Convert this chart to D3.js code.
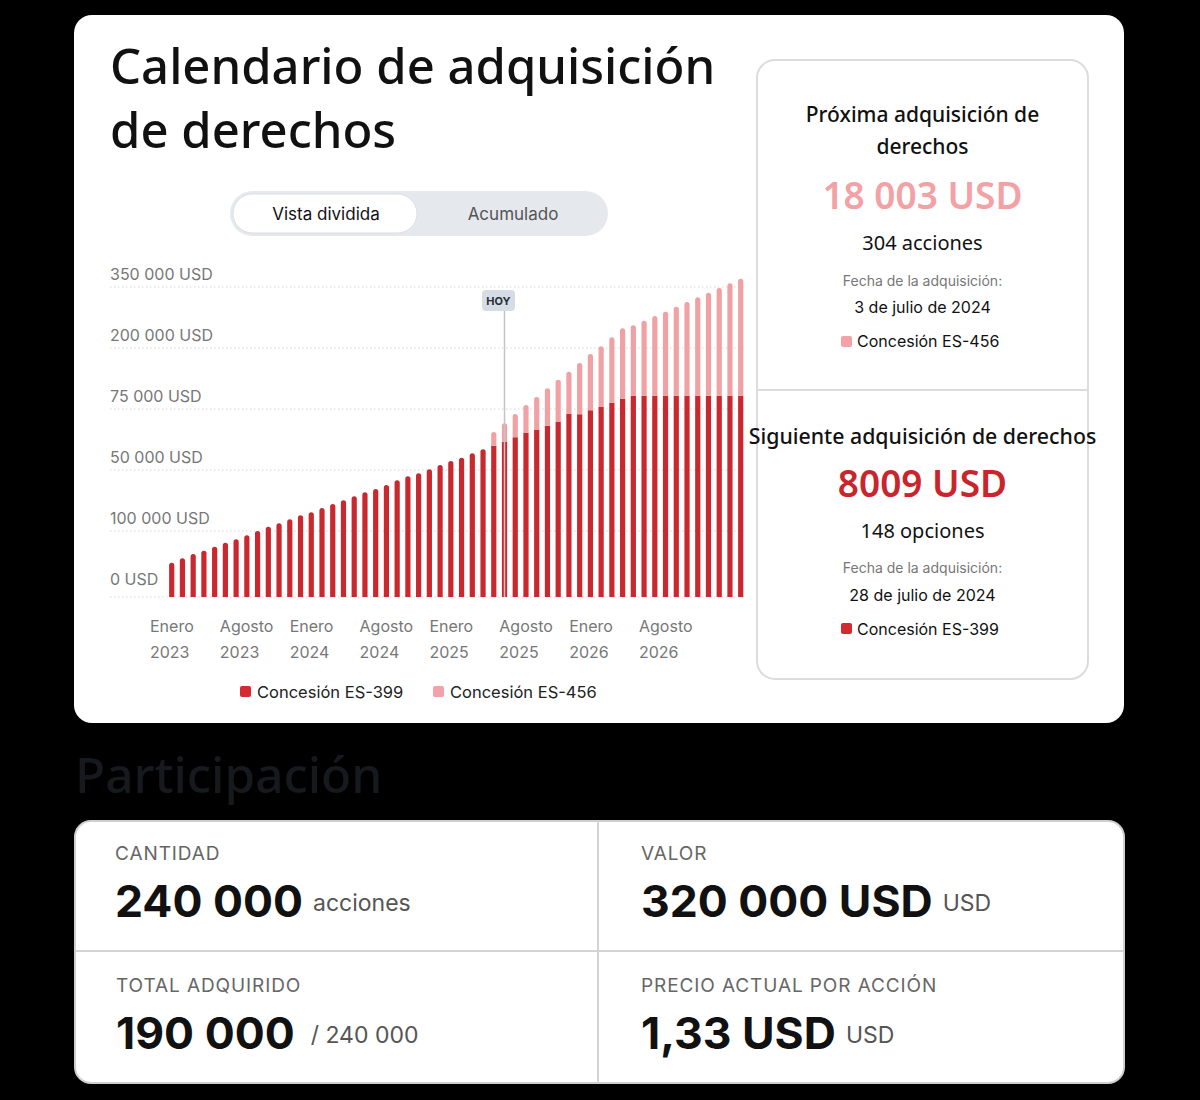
<!DOCTYPE html>
<meta charset="utf-8">
<script src="https://d3js.org/d3.v7.min.js"></script>
<style>
  body { margin: 0; background: #000; }
  svg text { font-family: Inter, "Noto Sans", sans-serif; }
  .head { font-family: "Noto Sans", sans-serif; }
</style>
<body>
<div id="chart"></div>
<script>
// data
var es399 = [38700, 43700, 48500, 52300, 56800, 61300, 65100, 69700, 74500, 79400,
             83200, 87700, 92200, 95600, 100500, 105000, 109200, 113700, 118200, 121900,
             126400, 131800, 136300, 139700, 144200, 149000, 153500, 157300, 162200, 166800,
             170800, 175300, 180300, 185200, 188500, 193400, 197600, 206600, 206300, 210800,
             214500, 219400, 223900, 227300, 227300, 227300, 227300, 227300, 227300, 227300,
             227300, 227300, 227300, 227300];
var es456 = [0, 0, 0, 0, 0, 0, 0, 0, 0, 0,
             0, 0, 0, 0, 0, 0, 0, 0, 0, 0,
             0, 0, 0, 0, 0, 0, 0, 0, 0, 0,
             15500, 20800, 26300, 31600, 37300, 42200, 47700, 47800, 57900, 63500,
             68500, 73800, 79500, 79400, 84600, 89900, 94800, 100400, 105800, 111100,
             116300, 121600, 126900, 132100];
var todayIndex = 31;
var yTickLabels = ["0 USD", "100 000 USD", "50 000 USD", "75 000 USD", "200 000 USD", "350 000 USD"];
var xMonths = ["Enero", "Agosto", "Enero", "Agosto", "Enero", "Agosto", "Enero", "Agosto"];
var xYears = ["2023", "2023", "2024", "2024", "2025", "2025", "2026", "2026"];
var grants = ["Concesión ES-399", "Concesión ES-456"];
var colors = ["#c8282e", "#f0a1a4"];

var svg = d3.select("#chart").append("svg")
  .attr("width", 1200).attr("height", 1100);

svg.append("rect").attr("width", 1200).attr("height", 1100).attr("fill", "#000");

// main card
svg.append("rect").attr("x", 74).attr("y", 15).attr("width", 1050).attr("height", 708)
  .attr("rx", 18).attr("fill", "#fff");

svg.append("text").attr("class", "head").attr("x", 110).attr("y", 84)
  .attr("font-size", 49).attr("font-weight", 500).attr("fill", "#111")
  .text("Calendario de adquisición");
svg.append("text").attr("class", "head").attr("x", 110).attr("y", 148)
  .attr("font-size", 49).attr("font-weight", 500).attr("fill", "#111")
  .text("de derechos");

// toggle
svg.append("rect").attr("x", 230).attr("y", 191).attr("width", 378).attr("height", 45)
  .attr("rx", 22.5).attr("fill", "#e5e8ed");
svg.append("rect").attr("x", 233).attr("y", 194).attr("width", 184).attr("height", 39)
  .attr("rx", 19.5).attr("fill", "#fff").attr("stroke", "#dcdfe4").attr("stroke-width", 1);
svg.append("text").attr("x", 326).attr("y", 220).attr("text-anchor", "middle")
  .attr("font-size", 17).attr("fill", "#111").text("Vista dividida");
svg.append("text").attr("x", 513).attr("y", 220).attr("text-anchor", "middle")
  .attr("font-size", 17).attr("fill", "#555").text("Acumulado");

// scales
var x = d3.scalePoint().domain(es399.map(function(d, i) { return i; }))
  .range([171.7, 740.7]);
var y = d3.scaleLinear().domain([0, 350000]).range([597, 287]);
var gy = d3.scalePoint().domain(yTickLabels).range([592, 287]);
var xl = d3.scalePoint().domain(d3.range(xMonths.length)).range([150, 639]);

// grid + y labels
var grid = svg.append("g");
yTickLabels.forEach(function(lab, i) {
  var ly = i === 0 ? y(0) : gy(lab);
  grid.append("line").attr("x1", 110).attr("x2", 745)
    .attr("y1", ly).attr("y2", ly)
    .attr("stroke", "#d6d6d6").attr("stroke-width", 1).attr("stroke-dasharray", "1.5,2.5");
  grid.append("text").attr("x", 110).attr("y", gy(lab) - 7)
    .attr("font-size", 16).attr("fill", "#777").text(lab);
});

function barPath(x0, y0, w, h, r) {
  r = Math.min(r, h);
  if (r <= 0) return "M" + x0 + "," + (y0 + h) + "V" + y0 + "H" + (x0 + w) + "V" + (y0 + h) + "Z";
  return "M" + x0 + "," + (y0 + h) + "V" + (y0 + r) +
    "Q" + x0 + "," + y0 + " " + (x0 + r) + "," + y0 +
    "H" + (x0 + w - r) + "Q" + (x0 + w) + "," + y0 + " " + (x0 + w) + "," + (y0 + r) +
    "V" + (y0 + h) + "Z";
}

var bw = 5.2;
var bars = svg.append("g");
es399.forEach(function(v, i) {
  var cx = x(i) - bw / 2;
  var top1 = y(v);
  bars.append("path").attr("fill", colors[0])
    .attr("d", barPath(cx, top1, bw, y(0) - top1, es456[i] > 0 ? 0 : 2.6));
  if (es456[i] > 0) {
    var top2 = y(v + es456[i]);
    bars.append("path").attr("fill", colors[1])
      .attr("d", barPath(cx, top2, bw, top1 - top2, 2.6));
  }
});

// today marker
var tx = x(todayIndex);
svg.append("line").attr("x1", tx).attr("x2", tx).attr("y1", 311).attr("y2", y(0))
  .attr("stroke", "#c4c4c4").attr("stroke-width", 1.5);
svg.append("rect").attr("x", 482).attr("y", 290).attr("width", 33).attr("height", 21)
  .attr("rx", 4).attr("fill", "#d6dce4");
svg.append("text").attr("x", 498.5).attr("y", 305).attr("text-anchor", "middle")
  .attr("font-size", 11).attr("font-weight", 700).attr("fill", "#2a2f36").text("HOY");

// x labels
xMonths.forEach(function(m, i) {
  svg.append("text").attr("x", xl(i)).attr("y", 632)
    .attr("font-size", 16).attr("fill", "#777").text(m);
  svg.append("text").attr("x", xl(i)).attr("y", 658)
    .attr("font-size", 16).attr("fill", "#777").text(xYears[i]);
});

// legend
var legX = [240, 433];
grants.forEach(function(g, i) {
  svg.append("rect").attr("x", legX[i]).attr("y", 686).attr("width", 11).attr("height", 11)
    .attr("rx", 2).attr("fill", i === 0 ? "#d32b2f" : "#f3a3a7");
  svg.append("text").attr("x", legX[i] + 17).attr("y", 698)
    .attr("font-size", 16.5).attr("fill", "#222").text(g);
});

// right panel
svg.append("rect").attr("x", 757).attr("y", 60).attr("width", 331).attr("height", 619)
  .attr("rx", 18).attr("fill", "#fff").attr("stroke", "#dcdcdc").attr("stroke-width", 2);
svg.append("line").attr("x1", 758).attr("x2", 1087).attr("y1", 390).attr("y2", 390)
  .attr("stroke", "#dcdcdc").attr("stroke-width", 2);

var cxp = 922.5;
function ptext(yy, txt, size, weight, fill, cls) {
  return svg.append("text").attr("class", cls || null).attr("x", cxp).attr("y", yy)
    .attr("text-anchor", "middle").attr("font-size", size).attr("font-weight", weight)
    .attr("fill", fill).text(txt);
}
ptext(122, "Próxima adquisición de", 21, 500, "#111", "head");
ptext(154, "derechos", 21, 500, "#111", "head");
ptext(209, "18 003 USD", 37, 600, "#f2a1a5", "head");
ptext(250, "304 acciones", 20, 400, "#111", "head");
ptext(286, "Fecha de la adquisición:", 14, 400, "#777");
ptext(313, "3 de julio de 2024", 16, 400, "#111");
svg.append("rect").attr("x", 841).attr("y", 336).attr("width", 11).attr("height", 11)
  .attr("rx", 2).attr("fill", "#f3a3a7");
svg.append("text").attr("x", 857).attr("y", 347).attr("font-size", 16).attr("fill", "#111").text(grants[1]);

ptext(444, "Siguiente adquisición de derechos", 21.3, 500, "#111", "head");
ptext(497, "8009 USD", 37, 600, "#c9252c", "head");
ptext(538, "148 opciones", 20, 400, "#111", "head");
ptext(573, "Fecha de la adquisición:", 14, 400, "#777");
ptext(601, "28 de julio de 2024", 16, 400, "#111");
svg.append("rect").attr("x", 841).attr("y", 623).attr("width", 11).attr("height", 11)
  .attr("rx", 2).attr("fill", "#d32b2f");
svg.append("text").attr("x", 857).attr("y", 635).attr("font-size", 16).attr("fill", "#111").text(grants[0]);

// Participación
svg.append("text").attr("class", "head").attr("x", 75).attr("y", 793)
  .attr("font-size", 49.5).attr("font-weight", 500).attr("fill", "#16191d").text("Participación");

svg.append("rect").attr("x", 75).attr("y", 821).attr("width", 1049).attr("height", 262)
  .attr("rx", 16).attr("fill", "#fff").attr("stroke", "#cfcfcf").attr("stroke-width", 2);
svg.append("line").attr("x1", 598).attr("x2", 598).attr("y1", 822).attr("y2", 1082)
  .attr("stroke", "#d4d4d4").attr("stroke-width", 2);
svg.append("line").attr("x1", 76).attr("x2", 1123).attr("y1", 951).attr("y2", 951)
  .attr("stroke", "#d4d4d4").attr("stroke-width", 2);

var stats = [
  { x: 115, y: 853, label: "CANTIDAD", value: "240 000", unit: "acciones" },
  { x: 641, y: 853, label: "VALOR", value: "320 000 USD", unit: "USD" },
  { x: 116, y: 985, label: "TOTAL ADQUIRIDO", value: "190 000", unit: "/ 240 000" },
  { x: 641, y: 985, label: "PRECIO ACTUAL POR ACCIÓN", value: "1,33 USD", unit: "USD" }
];
stats.forEach(function(s) {
  svg.append("text").attr("x", s.x).attr("y", s.y + 7).attr("font-size", 19)
    .attr("letter-spacing", 0.9).attr("fill", "#666").text(s.label);
  var t = svg.append("text").attr("x", s.x).attr("y", s.y + 64).attr("fill", "#111");
  t.append("tspan").attr("font-size", 44.5).attr("font-weight", 700).text(s.value);
  t.append("tspan").attr("dx", s.unit[0] === "/" ? 16 : 10).attr("font-size", 23)
    .attr("fill", "#555").attr("dy", -6).text(s.unit);
});
</script>
</body>
</html>
